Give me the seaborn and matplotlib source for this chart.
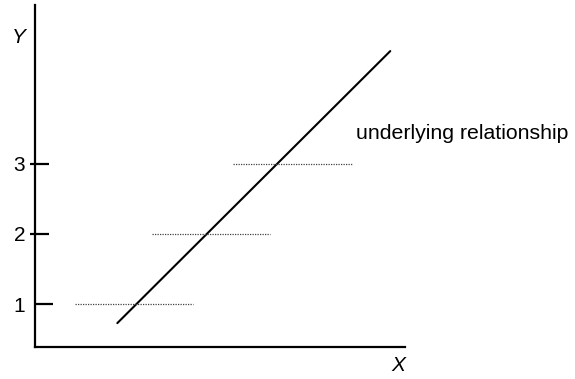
import numpy as np
import pandas as pd
import seaborn as sns
import matplotlib.pyplot as plt
from matplotlib.path import Path

# underlying relationship (straight line)
line_x = [1.17, 5.05]
line_y = [0.73, 4.60]

# observed (rounded) levels and the X range each one covers
level_y = [1, 2, 3]
level_start = [0.57, 1.66, 2.82]
level_end = [2.25, 3.34, 4.51]

tick_labels = ['1', '2', '3']


def main():
    sns.set_style('white')
    plt.rcParams['font.family'] = ['Liberation Sans', 'DejaVu Sans']
    plt.rcParams['text.color'] = 'black'
    plt.rcParams['axes.labelcolor'] = 'black'
    plt.rcParams['ytick.color'] = 'black'

    fig = plt.figure(figsize=(5.75, 3.79), dpi=100)
    ax = fig.add_axes([0.0609, 0.0844, 0.6435, 0.9032])

    line_df = pd.DataFrame({'x': line_x, 'y': line_y})
    sns.lineplot(data=line_df, x='x', y='y', color='black', linewidth=1.5, ax=ax)

    for y, x0, x1 in zip(level_y, level_start, level_end):
        ax.plot([x0, x1], [y, y], color='#444444', linewidth=0.9,
                linestyle=(0, (1, 1)))

    ax.set_xlim(0, 5.26)
    ax.set_ylim(0.39, 5.26)

    for side in ['top', 'right']:
        ax.spines[side].set_visible(False)
    for side in ['left', 'bottom']:
        ax.spines[side].set_linewidth(1.6)
        ax.spines[side].set_color('black')

    ax.set_xticks([])
    ax.set_yticks(level_y)
    ax.set_yticklabels(tick_labels, fontsize=15, color='black')
    ax.tick_params(axis='y', direction='in', length=13, width=1.6, pad=7,
                   color='black', left=True)

    # ticks at 2 and 3 poke a bit outside the spine, tick at 1 only inside
    out_tick = Path([(-5, 0), (14, 0)], [Path.MOVETO, Path.LINETO])
    for t in ax.yaxis.get_major_ticks()[1:]:
        t.tick1line.set_marker(out_tick)
        t.tick1line.set_markersize(20.2)

    ax.set_ylabel('Y', fontsize=15, style='italic', rotation=0, va='center')
    ax.yaxis.set_label_coords(-0.043, 0.903)
    ax.set_xlabel('X', fontsize=15, style='italic', va='center')
    ax.xaxis.set_label_coords(0.981, -0.053)

    ax.text(4.57, 3.35, 'underlying relationship', fontsize=15.3,
            va='baseline', ha='left', clip_on=False)

    fig.savefig('out.png', dpi=100)


if __name__ == '__main__':
    main()
